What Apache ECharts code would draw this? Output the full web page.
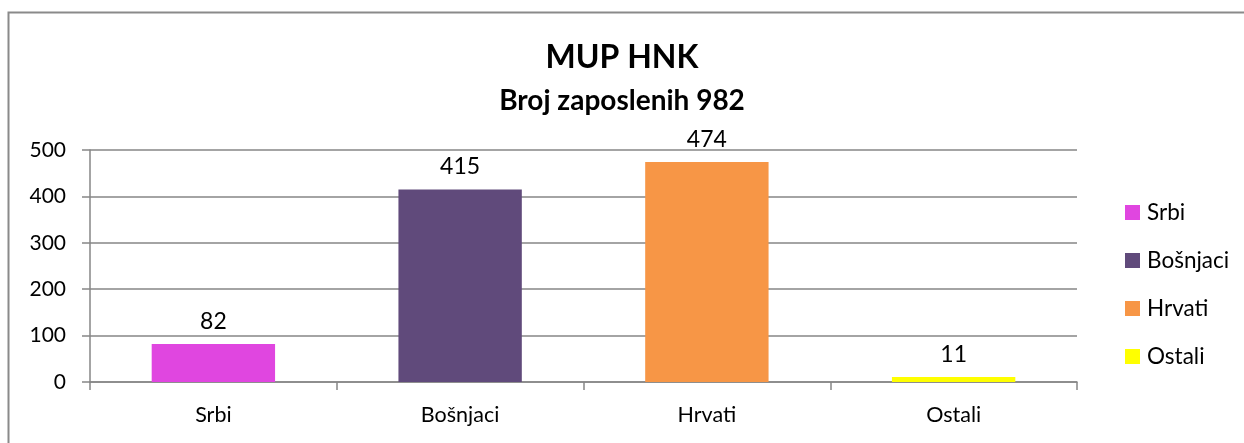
<!DOCTYPE html>
<html><head><meta charset="utf-8">
<script src="https://cdn.jsdelivr.net/npm/echarts@6/dist/echarts.min.js"></script>
<style>html,body{margin:0;padding:0;background:#fff}#c{width:1244px;height:443px}</style>
</head><body><div id="c"></div>
<script>
const categories = ['Srbi', 'Bošnjaci', 'Hrvati', 'Ostali'];
const values = [82, 415, 474, 11];
const colors = ['#E046E0', '#604A7B', '#F79646', '#FFFF00'];
const yTicks = [0, 100, 200, 300, 400, 500];
const titleText = 'MUP HNK';
const subtitleText = 'Broj zaposlenih 982';

const FONT = 'Lato, "Open Sans", sans-serif';
const chart = echarts.init(document.getElementById('c'));
const series = categories.map((name, i) => ({
  name: name,
  type: 'bar',
  stack: 'all',
  barWidth: '50%',
  data: categories.map((c, j) => j === i ? values[i] : '-'),
  itemStyle: { color: colors[i] },
  label: { show: true, position: 'top', distance: 11, color: '#000', fontFamily: FONT, fontSize: 23 },
  emphasis: { disabled: true }
}));
chart.setOption({
  animation: false,
  title: [
    { text: titleText, left: 'center', top: 37, textStyle: { fontFamily: FONT, fontWeight: 'bold', fontSize: 32, color: '#000' } },
    { text: subtitleText, left: 'center', top: 82, textStyle: { fontFamily: FONT, fontWeight: 'bold', fontSize: 28, color: '#000' } }
  ],
  graphic: [{ type: 'rect', shape: { x: 8.5, y: 12.5, width: 1300, height: 500 }, style: { fill: 'none', stroke: '#8a8a8a', lineWidth: 2 }, silent: true }],
  legend: {
    orient: 'vertical', left: 1120, top: 196, itemWidth: 15, itemHeight: 15, itemGap: 25,
    icon: 'rect', data: categories,
    textStyle: { fontFamily: FONT, fontSize: 22.5, color: '#000', padding: [0, 0, 0, 2] }
  },
  grid: { left: 90, right: 167, top: 150, bottom: 61 },
  xAxis: {
    type: 'category', data: categories,
    axisLine: { lineStyle: { color: '#868686', width: 1.5 } },
    axisTick: { show: true, length: 8, lineStyle: { color: '#868686', width: 1.5 } },
    axisLabel: { margin: 22, fontFamily: FONT, fontSize: 21.5, color: '#000' }
  },
  yAxis: {
    type: 'value', min: yTicks[0], max: yTicks[yTicks.length - 1], interval: 100,
    axisLine: { show: true, lineStyle: { color: '#868686', width: 1.5 } },
    axisTick: { show: true, length: 8, lineStyle: { color: '#868686', width: 1.5 } },
    splitLine: { lineStyle: { color: '#868686', width: 1.5 } },
    axisLabel: { margin: 24, fontFamily: FONT, fontSize: 21, color: '#000' }
  },
  series: series
});
</script></body></html>
